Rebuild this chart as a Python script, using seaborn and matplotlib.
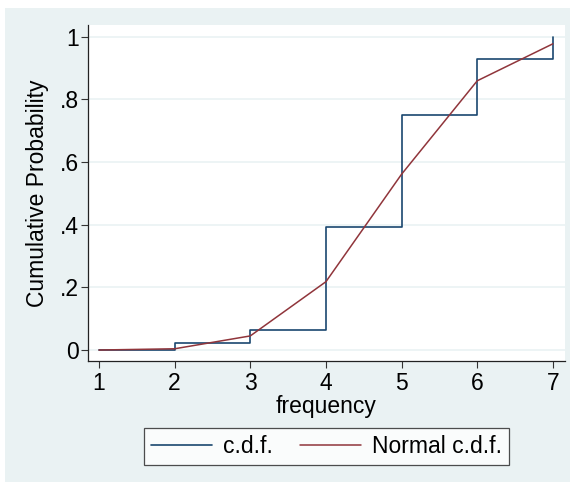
import matplotlib
matplotlib.use("Agg")
import matplotlib.pyplot as plt
import pandas as pd
import seaborn as sns
from matplotlib.patches import Rectangle

# values
frequency = [1, 2, 3, 4, 5, 6, 7]
cdf = [0.0, 0.023, 0.065, 0.392, 0.749, 0.927, 1.0]
normal_cdf = [0.0, 0.004, 0.045, 0.218, 0.561, 0.859, 0.977]
y_ticks = [0, 0.2, 0.4, 0.6, 0.8, 1.0]
y_tick_labels = ["0", ".2", ".4", ".6", ".8", "1"]

df = pd.DataFrame({"frequency": frequency, "cdf": cdf, "normal": normal_cdf})

sns.set_style("white")
plt.rcParams["font.family"] = ["Liberation Sans", "DejaVu Sans"]
plt.rcParams["text.color"] = "black"
plt.rcParams["axes.labelcolor"] = "black"
plt.rcParams["xtick.color"] = "black"
plt.rcParams["ytick.color"] = "black"

fs = 16.5

fig = plt.figure(figsize=(5.74, 4.82), dpi=100)
fig.patch.set_facecolor("white")
# stata-like outer panel
fig.patches.append(Rectangle((5 / 574, 0), 565 / 574, 1 - 8 / 482,
                             transform=fig.transFigure, facecolor="#eaf2f3",
                             edgecolor="none", zorder=-10))

ax = fig.add_axes([88 / 574, 1 - 361 / 482, (565 - 88) / 574, (361 - 25) / 482])
ax.set_facecolor("white")

sns.lineplot(data=df, x="frequency", y="cdf", ax=ax, color="#1a476f",
             linewidth=1.2, drawstyle="steps-post", label="c.d.f.")
sns.lineplot(data=df, x="frequency", y="normal", ax=ax, color="#90353b",
             linewidth=1.1, label="Normal c.d.f.")

ax.set_xlim(0.855, 7.16)
ax.set_ylim(-0.035, 1.037)
ax.set_xticks(frequency)
ax.set_yticks(y_ticks)
ax.set_yticklabels(y_tick_labels)
ax.tick_params(axis="both", labelsize=fs, length=5, width=0.8, color="#333333",
               direction="out", left=True, bottom=True)
ax.tick_params(axis="y", pad=1.5)
ax.tick_params(axis="x", pad=3)
ax.yaxis.grid(True, color="#eaf2f3", linewidth=1.2)
ax.set_axisbelow(True)

for s in ["top", "right"]:
    ax.spines[s].set_visible(False)
for s in ["left", "bottom"]:
    ax.spines[s].set_color("#222222")
    ax.spines[s].set_linewidth(0.9)

ax.set_xlabel("frequency", fontsize=fs, labelpad=0)
ax.set_ylabel("Cumulative Probability", fontsize=fs, labelpad=8)

leg = ax.legend(loc="upper center", bbox_to_anchor=(0.5, -0.199), ncol=2,
                fontsize=fs, frameon=True, fancybox=False, handlelength=2.66,
                columnspacing=1.18, borderpad=0.3, handletextpad=0.48,
                borderaxespad=0)
leg.get_frame().set_edgecolor("#222222")
leg.get_frame().set_linewidth(0.9)

fig.savefig("out.png", dpi=100)
